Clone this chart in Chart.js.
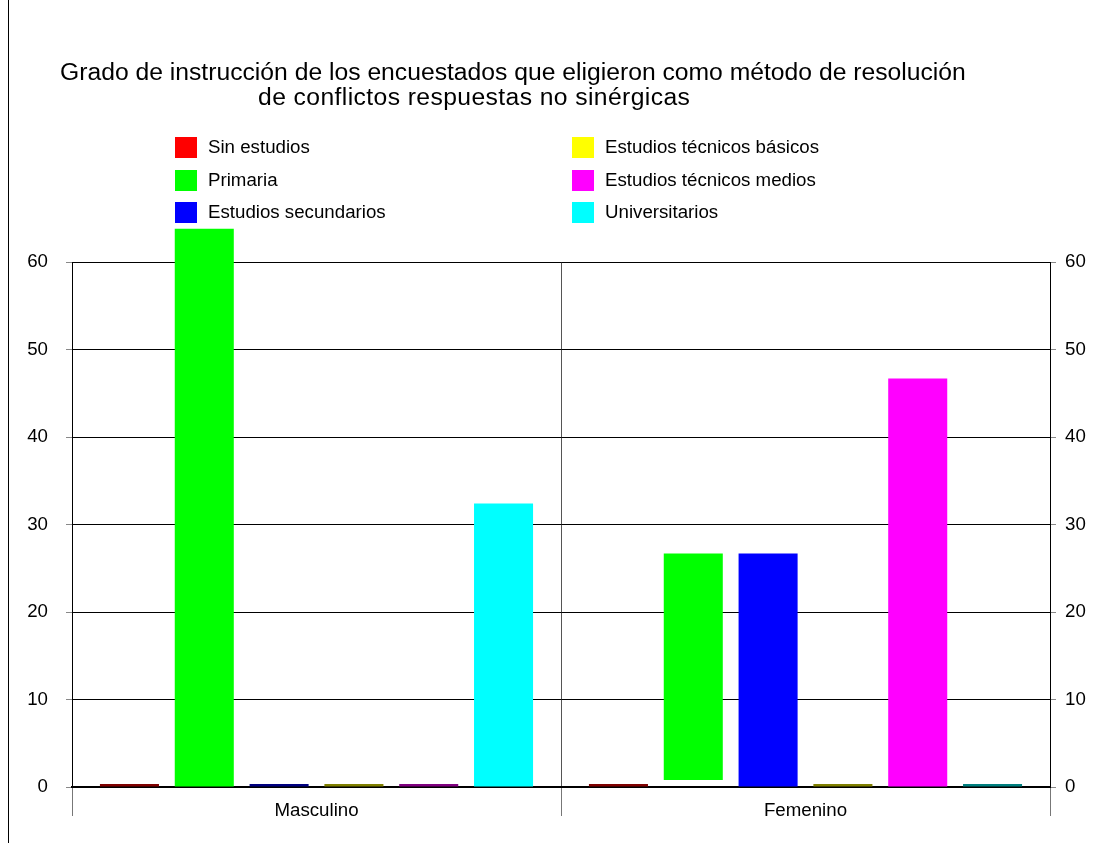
<!DOCTYPE html>
<html lang="es">
<head>
<meta charset="utf-8">
<title>Grado de instrucción</title>
<script src="https://cdn.jsdelivr.net/npm/chart.js@4/dist/chart.umd.min.js"></script>
<style>
  html, body { margin: 0; padding: 0; background: #fff; }
  body { width: 1102px; height: 843px; position: relative; overflow: hidden;
         font-family: "Liberation Sans", Arial, sans-serif; color: #000; }
  #frame { position: absolute; left: 8px; top: 0; width: 1px; height: 843px; background: #000; }
  #chart { position: absolute; left: 0; top: 0; }
  .title { position: absolute; font-size: 24.7px; line-height: 24px; white-space: nowrap; }
  #legend { position: absolute; left: 0; top: 0; }
  .item { position: absolute; display: flex; align-items: center; font-size: 18.7px; white-space: nowrap; }
  .sw { width: 22px; height: 21px; margin-right: 11px; }
</style>
</head>
<body>
<div id="frame"></div>
<canvas id="chart" width="1102" height="843"></canvas>
<div class="title" style="left:60px; top:60px;">Grado de instrucción de los encuestados que eligieron como método de resolución</div>
<div class="title" style="left:258px; top:85px; letter-spacing:0.4px;">de conflictos respuestas no sinérgicas</div>
<div id="legend"></div>
<script>
// Categories and series (percentages)
const categories = ['Masculino', 'Femenino'];
const seriesNames = ['Sin estudios', 'Primaria', 'Estudios secundarios',
                     'Estudios técnicos básicos', 'Estudios técnicos medios', 'Universitarios'];
const sinEstudios = [0, 0];
const primaria = [[0, 63.8], [0.8, 26.7]];
const secundarios = [0, 26.7];
const tecnicosBasicos = [0, 0];
const tecnicosMedios = [0, 46.7];
const universitarios = [32.4, 0];
const yTicks = [0, 10, 20, 30, 40, 50, 60];

const fills = ['#ff0000', '#00ff00', '#0000ff', '#ffff00', '#ff00ff', '#00ffff'];
const darks = ['#800000', '#008000', '#000080', '#808000', '#800080', '#008080'];
const seriesData = [sinEstudios, primaria, secundarios, tecnicosBasicos, tecnicosMedios, universitarios];

const datasets = seriesData.map((data, i) => ({
  label: seriesNames[i],
  data: data,
  yAxisID: 'y',
  clip: false,
  minBarLength: 3,
  backgroundColor: ctx => (ctx.parsed && ctx.parsed.y === 0) ? darks[i] : fills[i],
  borderWidth: 0,
  categoryPercentage: 0.918,
  barPercentage: 0.789
}));

// Two-column legend, filled column by column
const legend = document.getElementById('legend');
const colX = [175, 572];
const rowY = [136, 169, 201];
seriesNames.forEach((name, i) => {
  const col = Math.floor(i / 3), row = i % 3;
  const el = document.createElement('div');
  el.className = 'item';
  el.style.left = colX[col] + 'px';
  el.style.top = rowY[row] + 'px';
  el.innerHTML = '<span class="sw" style="background:' + fills[i] + '"></span><span></span>';
  el.lastChild.textContent = name;
  legend.appendChild(el);
});

const tickFont = { family: '"Liberation Sans", Arial, sans-serif', size: 18.7 };
const yBase = {
  type: 'linear', min: 0, max: 60,
  afterBuildTicks: s => { s.ticks = yTicks.map(v => ({ value: v })); },
  ticks: { color: '#000', font: tickFont },
  border: { display: true, color: '#000', width: 1 }
};

new Chart(document.getElementById('chart'), {
  type: 'bar',
  data: { labels: categories, datasets },
  options: {
    responsive: false,
    animation: false,
    devicePixelRatio: 1,
    layout: { padding: { top: 262, left: 0, right: 0, bottom: 0 } },
    plugins: { legend: { display: false }, tooltip: { enabled: false }, title: { display: false } },
    scales: {
      x: {
        offset: true,
        afterFit: s => { s.height = 56; },
        grid: { offset: true, color: '#555', lineWidth: 1, tickLength: 29, tickColor: '#777' },
        border: { display: true, color: '#000', width: 2 },
        ticks: { color: '#000', font: tickFont, padding: -16 }
      },
      y: Object.assign({}, yBase, {
        position: 'left',
        afterFit: s => { s.width = 72; },
        grid: { color: '#000', lineWidth: 1, tickLength: 6, tickColor: '#888' },
        ticks: Object.assign({}, yBase.ticks, { padding: 18 })
      }),
      y2: Object.assign({}, yBase, {
        position: 'right',
        afterFit: s => { s.width = 52; },
        grid: { drawOnChartArea: false, tickLength: 6, tickColor: '#888' },
        ticks: Object.assign({}, yBase.ticks, { padding: 9 })
      })
    }
  }
});
</script>
</body>
</html>
